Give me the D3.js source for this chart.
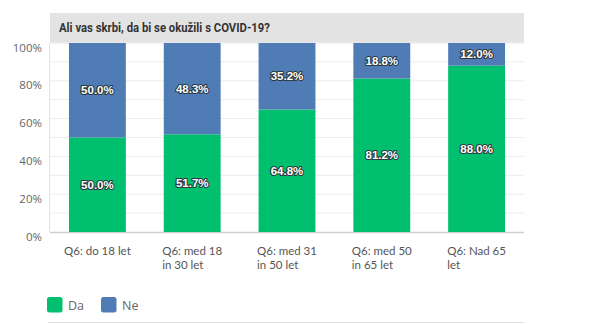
<!DOCTYPE html>
<html><head><meta charset="utf-8">
<script src="https://cdn.jsdelivr.net/npm/d3@7"></script>
<style>body{margin:0;background:#fff;} svg{display:block;}</style>
</head><body>
<script>
const title = "Ali vas skrbi, da bi se okužili s COVID-19?";
const categories = [["Q6: do 18 let"],["Q6: med 18","in 30 let"],["Q6: med 31","in 50 let"],["Q6: med 50","in 65 let"],["Q6: Nad 65","let"]];
const seriesNames = ["Da","Ne"];
const daValues = [50.0, 51.7, 64.8, 81.2, 88.0];
const neValues = [50.0, 48.3, 35.2, 18.8, 12.0];
const yTicks = [0,20,40,60,80,100];
const colors = ["#00bf6f","#507cb6"];

const W=600,H=324;
const m={left:50,right:76,top:43,bottom:92};
const svg=d3.select("body").append("svg").attr("width",W).attr("height",H);
const font="'Open Sans', sans-serif";

const x=d3.scaleBand().domain(d3.range(categories.length)).range([m.left,W-m.right]).paddingInner(0.4).paddingOuter(0.2);
const y=d3.scaleLinear().domain([0,100]).range([H-m.bottom,m.top]);

// title box
svg.append("rect").attr("x",m.left).attr("y",13).attr("width",W-m.right-m.left).attr("height",m.top-13).attr("fill","#e3e3e3");
svg.append("text").attr("x",59).attr("y",32).text(title)
  .attr("font-family","Roboto, sans-serif").attr("font-weight","bold").attr("font-size",12.5).attr("fill","#333")
  .attr("textLength",211).attr("lengthAdjust","spacingAndGlyphs");

// grid
svg.append("g").selectAll("line").data(d3.range(10,101,10)).join("line")
  .attr("x1",m.left).attr("x2",W-m.right).attr("y1",d=>y(d)).attr("y2",d=>y(d))
  .attr("stroke","#ececec").attr("stroke-width",1);
svg.append("line").attr("x1",m.left-0.5).attr("x2",m.left-0.5).attr("y1",y(100)).attr("y2",y(0)).attr("stroke","#e2e2e2");
svg.append("line").attr("x1",m.left).attr("x2",W-m.right).attr("y1",y(0)+0.5).attr("y2",y(0)+0.5).attr("stroke","#d0d0d0").attr("stroke-width",1.5);

// y labels
svg.append("g").selectAll("text").data(yTicks).join("text")
  .attr("x",42).attr("y",d=>y(d)+4.5).attr("dy","0.35em").attr("text-anchor","end")
  .attr("font-family",font).attr("font-size",11.5).attr("fill","#666").text(d=>d+"%");

// stacked data
const rows=categories.map((c,i)=>({i,Da:daValues[i],Ne:neValues[i]}));
const stack=d3.stack().keys(seriesNames)(rows);
const g=svg.append("g");
stack.forEach((s,si)=>{
  g.selectAll(null).data(s).join("rect")
    .attr("x",d=>x(d.data.i)).attr("width",x.bandwidth())
    .attr("y",d=>y(d[1])).attr("height",d=>y(d[0])-y(d[1]))
    .attr("fill",colors[si]);
});
stack.forEach((s,si)=>{
  g.selectAll(null).data(s).join("text")
    .attr("x",d=>x(d.data.i)+x.bandwidth()/2).attr("y",d=>y((d[0]+d[1])/2)).attr("dy","0.35em")
    .attr("text-anchor","middle").attr("font-family","'Liberation Sans', Arial, sans-serif").attr("font-weight","bold")
    .attr("font-size",11.5).attr("fill","#fff").attr("stroke","#2b3a40").attr("stroke-width",2.2)
    .attr("paint-order","stroke").attr("stroke-linejoin","round")
    .text(d=>(d[1]-d[0]).toFixed(1)+"%");
});

// x labels
categories.forEach((lines,i)=>{
  const t=svg.append("text").attr("font-family","Lato, sans-serif").attr("font-size",11.5).attr("fill","#555");
  lines.forEach((l,li)=>t.append("tspan").attr("y",y(0)+23+li*14).text(l));
  const tsp=t.selectAll("tspan").nodes();
  const maxW=d3.max(tsp,n=>n.getComputedTextLength());
  const cx=x(i)+x.bandwidth()/2;
  t.selectAll("tspan").attr("x",cx-maxW/2);
});

// legend
const lg=svg.append("g");
const lx=[47,101];
seriesNames.forEach((n,i)=>{
  lg.append("rect").attr("x",lx[i]).attr("y",297).attr("width",15.5).attr("height",15.5).attr("rx",2.5).attr("fill",colors[i]);
  lg.append("text").attr("x",lx[i]+21).attr("y",305.5).attr("dy","0.35em").attr("font-family",font).attr("font-size",12.5).attr("fill","#666").text(n);
});
svg.append("line").attr("x1",48).attr("x2",W-m.right).attr("y1",322.5).attr("y2",322.5).attr("stroke","#e0e0e0");
</script>
</body></html>
